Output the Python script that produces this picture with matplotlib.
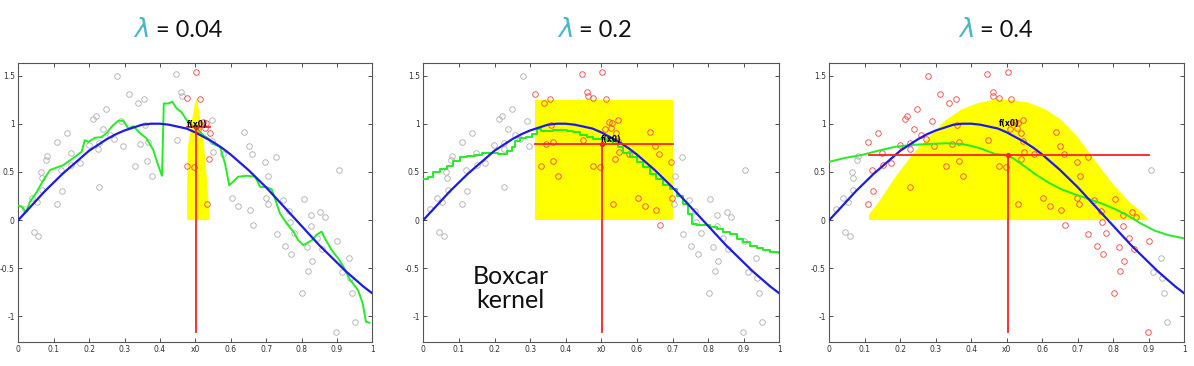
import matplotlib
matplotlib.use("Agg")
import matplotlib.pyplot as plt
import numpy as np

plt.rcParams['mathtext.fontset'] = 'dejavusans'

# ---------------- data ----------------
pts_x = [0.019, 0.038, 0.045, 0.052, 0.057, 0.065, 0.066, 0.068, 0.078, 0.081,
         0.109, 0.110, 0.121, 0.123, 0.138, 0.149, 0.150, 0.174, 0.199, 0.212,
         0.220, 0.226, 0.227, 0.228, 0.239, 0.248, 0.258, 0.271, 0.279, 0.290,
         0.296, 0.313, 0.330, 0.338, 0.345, 0.356, 0.359, 0.364, 0.365, 0.378,
         0.445, 0.448, 0.460, 0.462, 0.477, 0.477, 0.497, 0.503, 0.509, 0.512,
         0.522, 0.528, 0.531, 0.532, 0.539, 0.541, 0.546, 0.547, 0.549, 0.577,
         0.603, 0.622, 0.638, 0.651, 0.654, 0.661, 0.664, 0.697, 0.699, 0.704,
         0.706, 0.728, 0.730, 0.747, 0.753, 0.764, 0.767, 0.771, 0.780, 0.802,
         0.806, 0.815, 0.819, 0.826, 0.826, 0.829, 0.843, 0.852, 0.857, 0.865,
         0.898, 0.901, 0.905, 0.913, 0.935, 0.937, 0.942, 0.952]
pts_y = [0.11, 0.23, -0.12, 0.19, -0.17, 0.50, 0.44, 0.31, 0.62, 0.66,
         0.81, 0.17, 0.52, 0.30, 0.90, 0.70, 0.57, 0.59, 0.78, 1.05,
         1.08, 0.74, 0.80, 0.34, 0.95, 1.15, 0.88, 0.84, 1.50, 1.03,
         0.77, 1.31, 0.56, 1.21, 0.79, 1.26, 0.99, 0.61, 0.81, 0.455,
         1.52, 0.83, 1.325, 1.285, 1.27, 0.56, 0.555, 1.54, 0.95, 1.26,
         1.02, 0.955, 1.005, 0.165, 0.635, 0.90, 1.04, 0.82, 0.71, 0.685,
         0.234, 0.15, 0.91, 0.77, 0.105, 0.684, -0.046, 0.60, 0.23, 0.17,
         0.455, 0.656, -0.14, 0.206, -0.27, 0.09, -0.02, -0.35, -0.13, -0.76,
         0.22, -0.28, -0.53, 0.05, -0.06, -0.42, -0.19, 0.085, -0.305, 0.03,
         -1.165, -0.22, 0.52, -0.54, -0.39, -0.605, -0.76, -1.06]

true_x = [i * 0.025 for i in range(41)]
true_y = [0.00, 0.10, 0.20, 0.30, 0.39, 0.48, 0.56, 0.64, 0.72, 0.78,
          0.84, 0.89, 0.93, 0.96, 0.99, 1.00, 1.00, 0.99, 0.97, 0.95,
          0.91, 0.86, 0.81, 0.75, 0.68, 0.60, 0.52, 0.43, 0.34, 0.24,
          0.14, 0.04, -0.06, -0.16, -0.26, -0.35, -0.44, -0.53, -0.61, -0.69,
          -0.76]

fit1_x = [0.0, 0.01, 0.022, 0.033, 0.052, 0.07, 0.09, 0.108, 0.127, 0.146,
          0.165, 0.179, 0.188, 0.198, 0.217, 0.235, 0.25, 0.264, 0.282, 0.297,
          0.311, 0.325, 0.344, 0.362, 0.381, 0.395, 0.406, 0.411, 0.424, 0.435,
          0.447, 0.461, 0.476, 0.49, 0.504, 0.523, 0.537, 0.551, 0.57, 0.584,
          0.596, 0.607, 0.621, 0.645, 0.669, 0.683, 0.702, 0.716, 0.73, 0.739,
          0.758, 0.777, 0.791, 0.805, 0.829, 0.843, 0.857, 0.866, 0.885, 0.904,
          0.918, 0.937, 0.946, 0.96, 0.973, 0.982, 0.992]
fit1_y = [0.15, 0.14, 0.08, 0.19, 0.29, 0.41, 0.52, 0.545, 0.57, 0.62,
          0.67, 0.71, 0.83, 0.81, 0.855, 0.86, 0.905, 0.97, 1.03, 1.03,
          0.95, 0.975, 0.90, 0.85, 0.73, 0.57, 0.46, 1.21, 1.21, 1.23,
          1.16, 1.12, 1.035, 0.985, 0.95, 0.88, 0.845, 0.79, 0.76, 0.585,
          0.36, 0.40, 0.45, 0.46, 0.45, 0.345, 0.34, 0.32, 0.17, 0.07,
          -0.035, -0.12, -0.21, -0.26, -0.21, -0.15, -0.12, -0.19, -0.31, -0.40,
          -0.48, -0.62, -0.66, -0.73, -0.865, -1.055, -1.065]

fit2_x = [0.0, 0.014, 0.028, 0.047, 0.066, 0.084, 0.103, 0.122, 0.145, 0.164,
          0.187, 0.211, 0.234, 0.248, 0.258, 0.272, 0.288, 0.304, 0.318, 0.332,
          0.346, 0.365, 0.384, 0.403, 0.421, 0.44, 0.459, 0.478, 0.496, 0.515,
          0.534, 0.548, 0.562, 0.581, 0.599, 0.618, 0.637, 0.655, 0.674, 0.693,
          0.712, 0.73, 0.744, 0.754, 0.768, 0.787, 0.805, 0.824, 0.843, 0.861,
          0.88, 0.899, 0.918, 0.936, 0.955, 0.974, 1.0]
fit2_y = [0.43, 0.445, 0.50, 0.53, 0.565, 0.61, 0.65, 0.66, 0.675, 0.70,
          0.70, 0.69, 0.72, 0.755, 0.825, 0.85, 0.86, 0.895, 0.94, 0.92,
          0.92, 0.93, 0.93, 0.92, 0.91, 0.885, 0.86, 0.845, 0.845, 0.825,
          0.79, 0.755, 0.70, 0.65, 0.60, 0.55, 0.48, 0.43, 0.36, 0.325,
          0.255, 0.17, 0.065, -0.04, -0.05, -0.055, -0.07, -0.09, -0.12, -0.145,
          -0.195, -0.23, -0.265, -0.29, -0.315, -0.33, -0.34]

fit3_x = [0.0, 0.044, 0.091, 0.138, 0.185, 0.232, 0.279, 0.326, 0.373, 0.40,
          0.429, 0.467, 0.504, 0.542, 0.579, 0.617, 0.654, 0.692, 0.73, 0.767,
          0.805, 0.842, 0.88, 0.917, 0.955, 1.0]
fit3_y = [0.605, 0.645, 0.675, 0.72, 0.76, 0.78, 0.79, 0.797, 0.79, 0.77,
          0.74, 0.685, 0.675, 0.58, 0.48, 0.39, 0.32, 0.267, 0.22, 0.173,
          0.114, 0.045, -0.04, -0.11, -0.156, -0.19]

kern1_x = [0.477, 0.477, 0.479, 0.485, 0.492, 0.499, 0.503, 0.505, 0.513, 0.526, 0.534, 0.541]
kern1_y = [0.0, 0.40, 0.76, 0.90, 1.07, 1.21, 1.25, 1.25, 1.07, 0.725, 0.38, 0.0]
kern2_x = [0.314, 0.314, 0.700, 0.700]
kern2_y = [0.0, 1.25, 1.25, 0.0]
kern3_x = [0.112, 0.112, 0.138, 0.185, 0.232, 0.279, 0.326, 0.373, 0.42, 0.467,
           0.504, 0.56, 0.608, 0.654, 0.70, 0.748, 0.795, 0.842, 0.88, 0.901]
kern3_y = [0.0, 0.06, 0.18, 0.44, 0.67, 0.86, 1.03, 1.15, 1.215, 1.25,
           1.25, 1.22, 1.15, 1.04, 0.86, 0.62, 0.39, 0.20, 0.08, 0.0]

lambdas = ["0.04", "0.2", "0.4"]
windows = [(0.47, 0.543), (0.305, 0.7015), (0.103, 0.903)]
x0 = 0.503
fhat = [0.967, 0.787, 0.675]
hline = [(0.477, 0.541), (0.314, 0.700), (0.112, 0.901)]
label_pos = [(0.476, 0.995), (0.50, 0.84), (0.478, 1.0)]
vline_bottom = -1.16

xtick_vals = [0, 0.1, 0.2, 0.3, 0.4, 0.5, 0.6, 0.7, 0.8, 0.9, 1.0]
xtick_labels = ['0', '0.1', '0.2', '0.3', '0.4', 'x0', '0.6', '0.7', '0.8', '0.9', '1']
ytick_vals = [-1, -0.5, 0, 0.5, 1, 1.5]
ytick_labels = ['-1', '-0.5', '0', '0.5', '1', '1.5']

# ---------------- figure ----------------
W, H = 1194, 366
fig = plt.figure(figsize=(W / 100, H / 100), dpi=100)
lefts = [18.3, 423.3, 829.3]
widths = [354, 356, 355]
ax_bottom_px, ax_top_px = 342, 63

kern_x = [kern1_x, kern2_x, kern3_x]
kern_y = [kern1_y, kern2_y, kern3_y]
fit_x = [fit1_x, fit2_x, fit3_x]
fit_y = [fit1_y, fit2_y, fit3_y]

px = np.array(pts_x)
py = np.array(pts_y)

teal = '#4db6c6'
title_lefts = [(133, 156.5), (556.7, 579.3), (958, 980.5)]

for i in range(3):
    ax = fig.add_axes([lefts[i] / W, 1 - ax_bottom_px / H, widths[i] / W,
                       (ax_bottom_px - ax_top_px) / H])
    ax.fill(kern_x[i], kern_y[i], color='#ffff00', lw=0, zorder=1)
    lo, hi = windows[i]
    inside = (px >= lo) & (px <= hi)
    ax.plot(px[~inside], py[~inside], 'o', mfc='none', mec='#b4b4b4',
            ms=4.0, mew=0.65, zorder=2)
    ax.plot(px[inside], py[inside], 'o', mfc='none', mec='#ff4a4a',
            ms=4.0, mew=0.65, zorder=2)
    ds = 'steps-post' if i == 1 else 'default'
    ax.plot(fit_x[i], fit_y[i], color='#22ee22', lw=1.4, zorder=3, drawstyle=ds)
    ax.plot(true_x, true_y, color='#1c1ce6', lw=1.6, zorder=4)
    ax.plot([x0, x0], [vline_bottom, fhat[i]], color='#ff2020', lw=1.3, zorder=5)
    ax.plot(list(hline[i]), [fhat[i], fhat[i]], color='#ff2020', lw=1.3, zorder=5)
    ax.plot([x0], [fhat[i]], 'o', color='#ff2020', ms=2.8, zorder=6)
    ax.text(label_pos[i][0], label_pos[i][1], 'f(x0)', fontsize=5.5,
            color='black', va='center', ha='left', zorder=7, fontweight='bold')

    ax.set_xlim(0, 1)
    ax.set_ylim(-1.265, 1.63)
    ax.set_xticks(xtick_vals)
    ax.set_xticklabels(xtick_labels)
    ax.set_yticks(ytick_vals)
    ax.set_yticklabels(ytick_labels)
    ax.tick_params(direction='in', length=3, width=0.6, top=True, right=True,
                   labelsize=5.5, pad=2.5, colors='#333333')
    for s in ax.spines.values():
        s.set_color('#555555')
        s.set_linewidth(0.8)

    if i == 1:
        ax.text(0.245, -0.71, 'Boxcar\nkernel', fontsize=18, family=['Lato', 'DejaVu Sans'],
                ha='center', va='center', linespacing=1.05, color='#111111', zorder=8)

    # title
    lx, rx = title_lefts[i]
    fig.text(lx / W, 1 - 37 / H, r'$\lambda$', fontsize=19, color=teal,
             ha='left', va='baseline')
    fig.text(rx / W, 1 - 37 / H, '= ' + lambdas[i], fontsize=17,
             family=['Lato', 'DejaVu Sans'], color='#111111', ha='left', va='baseline')

fig.savefig('out.png', dpi=100)
